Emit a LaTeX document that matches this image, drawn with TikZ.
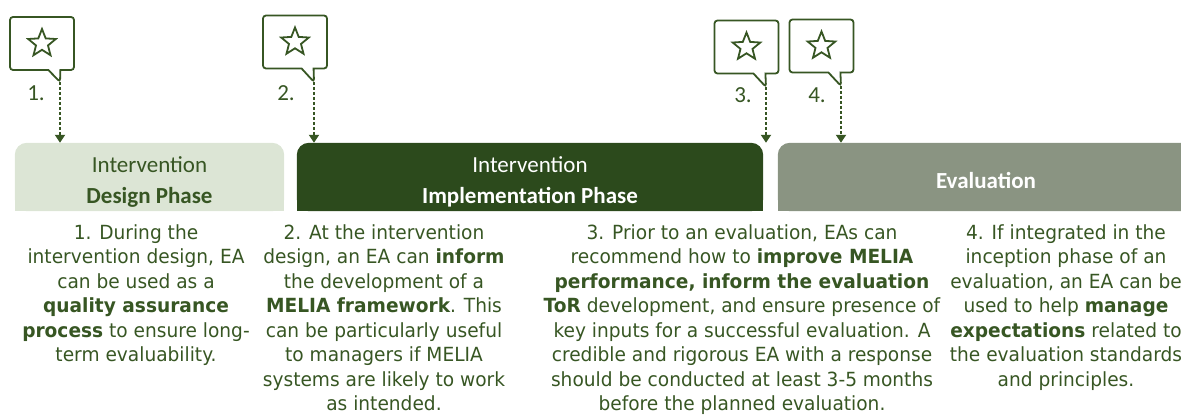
\documentclass[tikz,border=0pt]{standalone}
\usepackage{fontspec}
\usetikzlibrary{shapes.geometric,shapes.callouts,arrows.meta,backgrounds}
\setmainfont{Carlito}
\newfontfamily\bodyfont{DejaVu Sans}[FakeStretch=0.953]
\definecolor{leafgreen}{HTML}{375623}
\definecolor{darkleaf}{HTML}{2C4A1C}
\definecolor{paleleaf}{HTML}{DCE5D5}
\definecolor{sagegrey}{HTML}{8A9482}

\begin{document}
\begin{tikzpicture}[x=1pt,y=-1pt,
  bubble/.style={rectangle callout,draw=leafgreen,line width=1.8pt,fill=white,rounded corners=3pt,minimum width=64pt,minimum height=53pt,callout pointer width=12pt},
  staricon/.style={star,star points=5,star point ratio=2.3,draw=leafgreen,line width=1.8pt,minimum size=29pt,inner sep=0pt},
  numlabel/.style={text=leafgreen,font=\fontsize{23}{27}\selectfont},
  dotarrow/.style={leafgreen,line width=2.8pt,dash pattern=on 2.6pt off 2.4pt,-{Triangle[width=10pt,length=8pt]}},
  phase/.style={minimum height=68pt,inner sep=0pt},
  phasetext/.style={align=center,font=\fontsize{23}{30.5}\selectfont},
  blurb/.style={anchor=north,align=center,text=leafgreen,font=\bodyfont\fontsize{19.5}{24.5}\selectfont}]
\useasboundingbox (0,0) rectangle (1181,417);

% phase headers
\node[phase,minimum width=269pt,label={[phasetext,text=leafgreen,yshift=-5pt]center:{Intervention\\\textbf{Design Phase}}}] (design) at (149.5,177) {};
\node[phase,minimum width=466pt,label={[phasetext,text=white,yshift=-5pt]center:{Intervention\\\textbf{Implementation Phase}}}] (implement) at (530,177) {};
\node[phase,minimum width=416pt,label={[phasetext,text=white,yshift=-3pt]center:{\textbf{Evaluation}}}] (evaluate) at (986,177) {};
\begin{scope}[on background layer]
  \fill[paleleaf,rounded corners=12pt] (design.south west) rectangle (design.north east);
  \fill[paleleaf] (design.south west) rectangle (design.east);
  \fill[darkleaf,rounded corners=12pt] (implement.south west) rectangle (implement.north east);
  \fill[darkleaf] (implement.south west) rectangle (implement.east);
  \fill[sagegrey,rounded corners=12pt] (evaluate.south west) rectangle (evaluate.north east);
  \fill[sagegrey] (evaluate.south west) rectangle (evaluate.east);
\end{scope}

% star callouts
\coordinate (t1) at (60,82);
\node[bubble,callout absolute pointer={(t1)}] (c1) at (42,43.5) {};
\node[staricon] (s1) at (c1) {};
\node[numlabel] (n1) at (36,93) {1.};
\draw[dotarrow] (t1) -- (t1 |- design.north);

\coordinate (t2) at (314,82);
\node[bubble,callout absolute pointer={(t2)}] (c2) at (295,42) {};
\node[staricon] (s2) at (c2) {};
\node[numlabel] (n2) at (286,93) {2.};
\draw[dotarrow] (t2) -- (t2 |- implement.north);

\coordinate (t3) at (766,87);
\node[bubble,callout absolute pointer={(t3)}] (c3) at (746.5,47) {};
\node[staricon] (s3) at (c3) {};
\node[numlabel] (n3) at (743,95) {3.};
\draw[dotarrow] (t3) -- (t3 |- implement.north);

\coordinate (t4) at (841,86);
\node[bubble,callout absolute pointer={(t4)}] (c4) at (821.5,46) {};
\node[staricon] (s4) at (c4) {};
\node[numlabel] (n4) at (817,95) {4.};
\draw[dotarrow] (t4) -- (t4 |- evaluate.north);

% descriptions
\node[blurb] (b1) at (136,221) {1. During the\\intervention design, EA\\can be used as a\\\textbf{quality assurance}\\\textbf{process} to ensure long-\\term evaluability.};
\node[blurb] (b2) at (384,221) {2. At the intervention\\design, an EA can \textbf{inform}\\the development of a\\\textbf{MELIA framework}. This\\can be particularly useful\\to managers if MELIA\\systems are likely to work\\as intended.};
\node[blurb] (b3) at (742,221) {3. Prior to an evaluation, EAs can\\recommend how to \textbf{improve MELIA}\\\textbf{performance, inform the evaluation}\\\textbf{ToR} development, and ensure presence of\\key inputs for a successful evaluation. A\\credible and rigorous EA with a response\\should be conducted at least 3-5 months\\before the planned evaluation.};
\node[blurb] (b4) at (1066,221) {4. If integrated in the\\inception phase of an\\evaluation, an EA can be\\used to help \textbf{manage}\\\textbf{expectations} related to\\the evaluation standards\\and principles.};
\end{tikzpicture}
\end{document}
